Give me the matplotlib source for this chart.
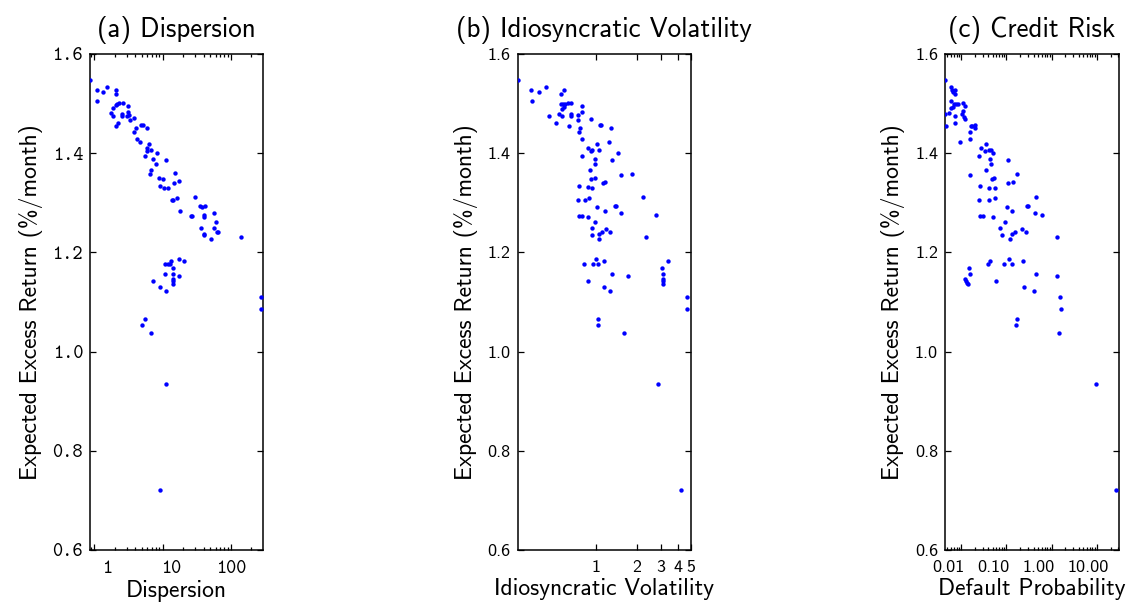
import matplotlib
matplotlib.use("Agg")
import matplotlib.pyplot as plt
import matplotlib.transforms as mtransforms
from matplotlib.ticker import FixedLocator, FixedFormatter, NullFormatter, LogLocator, NullLocator

# ---------------- data ----------------
disp_x = [0.865, 1.107, 1.10, 1.33, 1.53, 2.08, 2.05, 2.32, 2.60, 2.17, 2.05, 1.90, 1.74, 1.86,
          2.51, 2.51, 3.15, 3.08, 2.98, 3.22, 3.37, 3.77, 2.20, 2.10, 4.03, 3.81, 4.82, 5.10,
          5.90, 4.22, 4.61, 6.25, 5.85, 6.68, 5.85, 8.27, 5.52, 7.22, 11.2, 8.09, 6.84, 6.53,
          15.2, 8.85, 10.0, 17.6, 14.8, 9.16, 10.4, 11.9, 30.1, 16.0, 13.6, 14.4, 35.6, 38.1,
          42.2, 18.0, 55.8, 26.0, 26.9, 39.9, 40.4, 60.4, 36.5, 55.8, 61.8, 65.3, 40.4, 40.4,
          51.0, 142, 17.4, 20.3, 13.1, 10.8, 12.1, 12.8, 14.2, 10.8, 14.2, 17.6, 14.2, 14.2,
          14.2, 7.31, 9.16, 11.4, 279, 279, 5.46, 4.93, 6.83, 11.2, 9.25]
disp_y = [1.547, 1.527, 1.506, 1.523, 1.533, 1.527, 1.519, 1.502, 1.502, 1.499, 1.497, 1.492,
          1.481, 1.475, 1.480, 1.476, 1.496, 1.484, 1.475, 1.478, 1.467, 1.470, 1.461, 1.455,
          1.451, 1.443, 1.456, 1.457, 1.451, 1.429, 1.422, 1.419, 1.411, 1.407, 1.405, 1.401,
          1.395, 1.389, 1.387, 1.378, 1.367, 1.358, 1.360, 1.350, 1.348, 1.344, 1.339, 1.334,
          1.330, 1.329, 1.312, 1.310, 1.306, 1.306, 1.294, 1.292, 1.294, 1.284, 1.279, 1.273,
          1.273, 1.275, 1.271, 1.261, 1.249, 1.250, 1.242, 1.242, 1.238, 1.236, 1.228, 1.232,
          1.186, 1.182, 1.183, 1.177, 1.176, 1.176, 1.168, 1.156, 1.156, 1.152, 1.147, 1.142,
          1.136, 1.143, 1.130, 1.122, 1.110, 1.086, 1.065, 1.053, 1.038, 0.935, 0.721]

ivol_x = [0.265, 0.333, 0.336, 0.383, 0.431, 0.578, 0.550,
          0.550, 0.575, 0.595, 0.622, 0.659, 0.565, 0.585,
          0.451, 0.531, 0.565, 0.651, 0.655, 0.505, 0.633, 0.741, 0.733, 0.789, 0.789, 0.918,
          1.064, 1.09, 1.28, 0.762, 0.750, 0.789, 1.02, 1.24, 0.869, 0.935, 0.918, 1.05, 1.45,
          0.785, 0.983, 1.30, 0.983, 0.898, 1.53, 1.85, 0.924, 0.983, 1.13, 1.16, 0.750, 0.879,
          0.935, 2.23, 0.733, 0.830, 0.893, 1.02, 1.37, 1.40, 1.16, 1.53, 2.76, 0.754, 0.789,
          0.873, 0.978, 0.935, 1.19, 1.26, 1.10, 1.06, 0.940, 1.05, 2.33,
          1.00, 1.15, 0.811, 0.955, 1.03, 3.38, 3.07, 3.11, 3.11, 3.11, 3.11, 1.30, 1.72, 0.869,
          1.14, 1.26, 4.69, 4.69, 1.04, 1.03, 1.61, 2.86, 4.24]
ivol_y = [1.547, 1.527, 1.506, 1.523, 1.533, 1.527, 1.519,
          1.499, 1.499, 1.500, 1.502, 1.501, 1.490, 1.494,
          1.475, 1.480, 1.476, 1.479, 1.475, 1.461, 1.455, 1.478, 1.467, 1.496, 1.484, 1.469,
          1.457, 1.456, 1.451, 1.450, 1.442, 1.429, 1.419, 1.422, 1.411, 1.407, 1.405, 1.406,
          1.400, 1.395, 1.389, 1.387, 1.378, 1.367, 1.357, 1.359, 1.348, 1.350, 1.339, 1.342,
          1.333, 1.331, 1.329, 1.312, 1.306, 1.306, 1.310, 1.292, 1.294, 1.294, 1.284, 1.279,
          1.275, 1.273, 1.273, 1.272, 1.261, 1.250, 1.248, 1.242, 1.242, 1.238, 1.236, 1.228,
          1.232,
          1.186, 1.183, 1.177, 1.176, 1.176, 1.182, 1.168, 1.156, 1.147, 1.142, 1.136, 1.156,
          1.152, 1.143, 1.130, 1.122, 1.110, 1.086, 1.065, 1.053, 1.038, 0.935, 0.721]

dp_x = [0.00443, 0.00601, 0.00632, 0.00678, 0.00738, 0.00725, 0.00612, 0.00612, 0.00689,
        0.00762, 0.00859, 0.00654, 0.00443, 0.00552, 0.00459, 0.0075, 0.00738, 0.0113, 0.0121,
        0.0113, 0.0105, 0.0116, 0.0121, 0.0163, 0.0178, 0.0207, 0.0207, 0.0158, 0.0161,
        0.00935, 0.0351, 0.0272, 0.0422, 0.0459, 0.0333, 0.0518, 0.0254, 0.0445, 0.111,
        0.0459, 0.0351, 0.0155, 0.172, 0.0483, 0.0535, 0.111, 0.138, 0.0262, 0.0415, 0.0553,
        0.453, 0.0249, 0.0415, 0.0553, 0.102, 0.291, 0.306, 0.134, 0.423, 0.604, 0.0262,
        0.0311, 0.0518, 0.0953, 0.0726, 0.226, 0.268, 0.153, 0.136, 0.0817, 0.119, 1.32,
        0.115, 0.234, 0.0445, 0.0394, 0.0906, 0.134, 0.0148, 0.0161, 0.460, 1.29, 0.0123,
        0.0129, 0.0136, 0.0143, 0.0582, 0.242, 0.402, 1.53, 1.58, 0.172, 0.166, 1.46, 9.7, 26.4]
dp_y = [1.547, 1.533, 1.527, 1.524, 1.527, 1.519, 1.506, 1.492, 1.500, 1.500, 1.499, 1.493,
        1.480, 1.481, 1.455, 1.475, 1.461, 1.502, 1.496, 1.486, 1.480, 1.473, 1.468, 1.455,
        1.455, 1.457, 1.451, 1.442, 1.429, 1.422, 1.419, 1.411, 1.407, 1.406, 1.405, 1.400,
        1.395, 1.389, 1.387, 1.378, 1.367, 1.357, 1.359, 1.348, 1.350, 1.339, 1.342, 1.333,
        1.330, 1.329, 1.312, 1.306, 1.306, 1.310, 1.292, 1.294, 1.294, 1.284, 1.279, 1.275,
        1.273, 1.273, 1.272, 1.261, 1.250, 1.248, 1.242, 1.242, 1.238, 1.236, 1.228, 1.232,
        1.186, 1.183, 1.182, 1.177, 1.176, 1.176, 1.168, 1.156, 1.156, 1.152, 1.147, 1.142,
        1.139, 1.136, 1.143, 1.130, 1.122, 1.110, 1.086, 1.065, 1.053, 1.038, 0.935, 0.721]

titles = ["(a) Dispersion", "(b) Idiosyncratic Volatility", "(c) Credit Risk"]
xlabels = ["Dispersion", "Idiosyncratic Volatility", "Default Probability"]
ylabel = "Expected Excess Return (%/month)"
y_ticks = [0.6, 0.8, 1.0, 1.2, 1.4, 1.6]
y_ticklabels = ["0.6", "0.8", "1.0", "1.2", "1.4", "1.6"]
a_xticks = [1, 10, 100]
a_xticklabels = ["1", "10", "100"]
b_xticks = [1, 2, 3, 4, 5]
b_xticklabels = ["1", "2", "3", "4", "5"]
c_xticks = [0.01, 0.1, 1, 10]
c_xticklabels = ["0.01", "0.10", "1.00", "10.00"]

# ---------------- figure ----------------
SANS = ["cmss10", "DejaVu Sans"]
MONO = ["cmtt10", "DejaVu Sans Mono"]
plt.rcParams["axes.unicode_minus"] = False

fig = plt.figure(figsize=(11.30, 6.04), dpi=100)
W, H = 1130, 604
boxes = [(90, 263), (517.7, 691), (945, 1119)]
ytop, ybot = 54, 550

# horizontal nudges (points) of x tick labels, as placed in the original
a_shift = [9, 6, 0]
b_shift = [0, 0, 0, 0, 0]
c_shift = [-9, -9, -9, -6]

panels = [
    (disp_x, disp_y, (0.865, 295), a_xticks, a_xticklabels, True, MONO, 14, a_shift),
    (ivol_x, ivol_y, (0.265, 5.0), b_xticks, b_xticklabels, False, SANS, 13, b_shift),
    (dp_x, dp_y, (0.00443, 30.8), c_xticks, c_xticklabels, True, SANS, 13, c_shift),
]

for i, ((x0, x1), (xs, ys, xl, xt, xtl, minor, tickfont, tsize, shifts)) in enumerate(zip(boxes, panels)):
    ax = fig.add_axes([x0 / W, (H - ybot) / H, (x1 - x0) / W, (ybot - ytop) / H])
    ax.scatter(xs, ys, s=10, color="#0000ff", linewidths=0, zorder=3)
    ax.set_xscale("log")
    ax.set_xlim(*xl)
    ax.set_ylim(0.6, 1.6)
    ax.xaxis.set_major_locator(FixedLocator(xt))
    ax.xaxis.set_major_formatter(FixedFormatter(xtl))
    if minor:
        ax.xaxis.set_minor_locator(LogLocator(base=10, subs=range(2, 10), numticks=20))
    else:
        ax.xaxis.set_minor_locator(NullLocator())
    ax.xaxis.set_minor_formatter(NullFormatter())
    ax.yaxis.set_major_locator(FixedLocator(y_ticks))
    ax.yaxis.set_major_formatter(FixedFormatter(y_ticklabels))
    ax.tick_params(which="both", direction="in", top=True, right=True, width=0.9)
    ax.tick_params(which="major", length=4, labelsize=tsize)
    ax.tick_params(axis="y", which="major", pad=5)
    ax.tick_params(axis="x", which="major", pad=7)
    ax.tick_params(which="minor", length=2)
    for lab in ax.get_xticklabels() + ax.get_yticklabels():
        lab.set_family(tickfont)
    for lab, dx in zip(ax.get_xticklabels(), shifts):
        if dx:
            lab.set_transform(lab.get_transform() +
                              mtransforms.ScaledTranslation(dx / 72, 0, fig.dpi_scale_trans))
    for sp in ax.spines.values():
        sp.set_linewidth(1.1)
    ax.set_title(titles[i], fontsize=19.5, family=SANS, pad=12)
    ax.set_xlabel(xlabels[i], fontsize=17, family=SANS, labelpad=2)
    ax.set_ylabel(ylabel, fontsize=17, family=SANS, labelpad=7)

fig.savefig("out.png", dpi=100)
